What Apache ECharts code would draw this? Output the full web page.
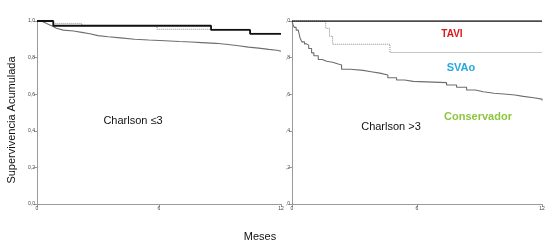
<!DOCTYPE html>
<html><head><meta charset="utf-8">
<script src="https://cdn.jsdelivr.net/npm/echarts@6/dist/echarts.min.js"></script>
<style>html,body{margin:0;padding:0;background:#fff}#c{width:554px;height:247px}</style>
</head><body><div id="c"></div>
<script>
// Charlson <=3 panel
const leftTAVI = [[0,1],[0.8,0.974],[8.56,0.951],[10.48,0.93],[12,0.93]];
const leftSVAo = [[0,1],[0.8,0.987],[2.2,0.974],[5.9,0.955],[10.45,0.933],[12,0.933]];
const leftCons = [[0,1],[0.2,0.99],[0.4,0.98],[0.6,0.97],[0.8,0.96],[0.95,0.95],[1.3,0.945],[1.8,0.938],[2.2,0.93],[2.6,0.92],[3.0,0.914],[3.5,0.908],[4.1,0.9],[4.8,0.896],[5.5,0.892],[6.3,0.888],[7.0,0.885],[7.6,0.882],[8.1,0.878],[8.8,0.872],[9.4,0.865],[9.9,0.857],[10.4,0.852],[10.9,0.845],[11.4,0.84],[11.8,0.835],[12,0.833]];
// Charlson >3 panel
const rightTAVI = [[0,1],[12,1]];
const rightSVAo = [[0,1],[1.62,0.96],[1.8,0.917],[1.95,0.873],[4.7,0.828],[12,0.828]];
const rightCons = [[0,1],[0.05,0.98],[0.1,0.965],[0.2,0.95],[0.3,0.94],[0.38,0.91],[0.47,0.886],[0.6,0.875],[0.7,0.868],[0.8,0.85],[0.94,0.826],[1.05,0.81],[1.26,0.79],[1.45,0.78],[1.66,0.775],[1.95,0.765],[2.22,0.76],[2.38,0.736],[2.8,0.73],[3.42,0.723],[3.8,0.715],[4.22,0.705],[4.6,0.69],[5.02,0.678],[5.4,0.67],[5.82,0.663],[7.42,0.65],[7.9,0.638],[8.38,0.623],[8.8,0.613],[9.18,0.605],[9.7,0.6],[10.3,0.596],[10.7,0.588],[11.1,0.581],[11.6,0.573],[12,0.565]];
const xTicks = [0,6,12];
const leftYLabels = {0:'0,0',0.2:'0,2',0.4:'0,4',0.6:'0,6',0.8:'0,8',1:'1,0'};
const rightYLabels = {0:',0',0.2:',2',0.4:',4',0.6:',6',0.8:',8',1:',0'};

const chart = echarts.init(document.getElementById('c'));
const font = 'Liberation Sans, Arial, sans-serif';
const axisLine = {show:true, lineStyle:{color:'#9a9a9a', width:1}};
function xAxis(gi){
  return {type:'value', gridIndex:gi, min:0, max:12, interval:6,
    axisLine:axisLine, axisTick:{show:true,length:3,lineStyle:{color:'#9a9a9a'}},
    axisLabel:{fontSize:5, color:'#444', margin:2, fontFamily:font},
    splitLine:{show:false}};
}
function yAxis(gi, labels){
  return {type:'value', gridIndex:gi, min:0, max:1, interval:0.2,
    axisLine:axisLine, axisTick:{show:true,length:3,lineStyle:{color:'#9a9a9a'}},
    axisLabel:{fontSize:5, color:'#444', margin:2, fontFamily:font,
      formatter:v=>labels[Math.round(v*10)/10]},
    splitLine:{show:false}};
}
function ser(gi, data, color, width, type){
  return {type:'line', xAxisIndex:gi, yAxisIndex:gi, data:data, step:'end',
    symbol:'none', lineStyle:{color:color, width:width, type:type}, animation:false, silent:true};
}
chart.setOption({
  animation:false,
  grid:[{left:37, top:21, width:244, height:183},{left:292, top:21, width:250, height:183}],
  xAxis:[xAxis(0), xAxis(1)],
  yAxis:[yAxis(0,leftYLabels), yAxis(1,rightYLabels)],
  series:[
    ser(0,leftCons,'#6e6e6e',1.1,'solid'),
    ser(0,leftSVAo,'#8a8a8a',1,'dotted'),
    ser(0,leftTAVI,'#111',1.8,'solid'),
    ser(1,rightCons,'#6e6e6e',1.1,'solid'),
    ser(1,rightSVAo,'#8a8a8a',1,'dotted'),
    ser(1,rightTAVI,'#111',1.6,'solid')
  ],
  graphic:[
    {type:'text', x:12, y:120, rotation:Math.PI/2, style:{text:'Supervivencia Acumulada', font:'11px '+font, fill:'#111', textAlign:'center', textVerticalAlign:'middle'}},
    {type:'text', x:260, y:237, style:{text:'Meses', font:'11px '+font, fill:'#111', textAlign:'center', textVerticalAlign:'middle'}},
    {type:'text', x:133, y:121, style:{text:'Charlson ≤3', font:'11px '+font, fill:'#111', textAlign:'center', textVerticalAlign:'middle'}},
    {type:'text', x:391, y:127, style:{text:'Charlson >3', font:'11px '+font, fill:'#111', textAlign:'center', textVerticalAlign:'middle'}},
    {type:'text', x:452, y:34, style:{text:'TAVI', font:'bold 10px '+font, fill:'#d7191c', textAlign:'center', textVerticalAlign:'middle'}},
    {type:'text', x:461, y:68, style:{text:'SVAo', font:'bold 11px '+font, fill:'#29a8e0', textAlign:'center', textVerticalAlign:'middle'}},
    {type:'text', x:478, y:117, style:{text:'Conservador', font:'bold 11px '+font, fill:'#8dc63f', textAlign:'center', textVerticalAlign:'middle'}}
  ]
});
</script></body></html>
